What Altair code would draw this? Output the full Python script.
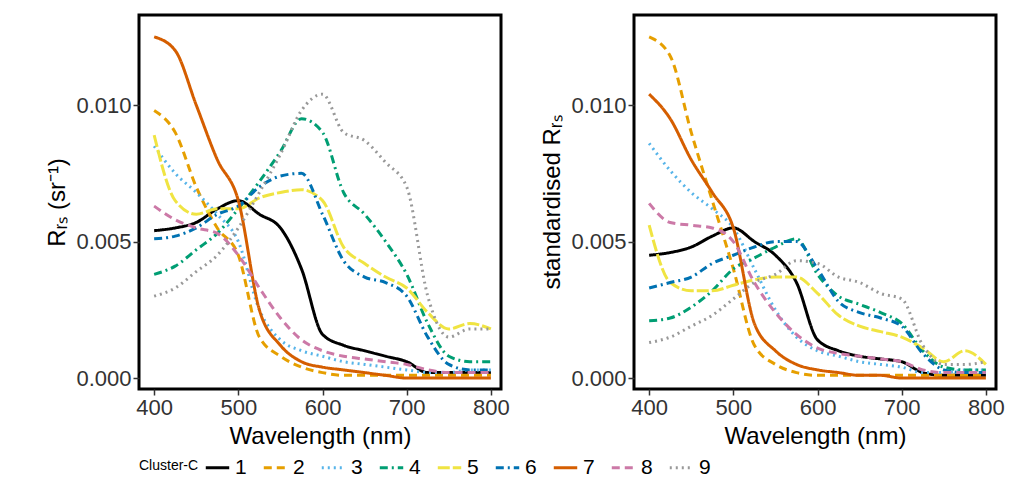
import altair as alt
import pandas as pd

wl = [400, 425, 450, 475, 500, 525, 550, 575, 600, 625, 650, 675, 700, 725, 750, 775, 800]
clusters = ["1", "2", "3", "4", "5", "6", "7", "8", "9"]

rrs = {
    "1": [.0054, .0055, .0057, .0062, .0065, .0060, .0055, .0040, .0016, .0012, .0010, .0008, .0006, .0002, .0002, .0002, .0002],
    "2": [.0098, .0090, .0070, .0055, .0045, .0015, .0008, .0004, .0002, .0001, .0001, .0001, .0001, .0001, .0001, .0001, .0001],
    "3": [.0085, .0075, .0068, .0060, .0050, .0025, .0014, .0010, .0008, .0006, .0005, .0004, .0003, .0002, .0002, .0003, .0003],
    "4": [.0038, .0041, .0047, .0053, .0062, .0072, .0083, .0095, .0090, .0068, .0060, .0050, .0038, .0020, .0008, .0006, .0006],
    "5": [.0089, .0065, .0060, .0062, .0062, .0066, .0068, .0069, .0065, .0048, .0042, .0037, .0033, .0024, .0018, .0020, .0018],
    "6": [.0051, .0052, .0055, .0060, .0063, .0070, .0074, .0075, .0060, .0043, .0037, .0035, .0030, .0015, .0005, .0003, .0003],
    "7": [.0125, .0120, .0100, .0080, .0065, .0025, .0012, .0006, .0004, .0003, .0002, .0001, .0000, .0000, .0000, .0000, .0000],
    "8": [.0063, .0058, .0055, .0053, .0045, .0033, .0022, .0014, .0010, .0008, .0007, .0006, .0005, .0003, .0002, .0002, .0002],
    "9": [.0030, .0033, .0039, .0045, .0055, .0068, .0082, .0098, .0104, .0090, .0087, .0079, .0070, .0030, .0015, .0018, .0018],
}

std = {
    "1": [.0045, .0046, .0048, .0052, .0055, .0050, .0045, .0035, .0014, .0010, .0008, .0007, .0006, .0002, .0001, .0001, .0001],
    "2": [.0125, .0118, .0090, .0065, .0040, .0012, .0005, .0002, .0001, .0001, .0001, .0001, .0001, .0001, .0001, .0001, .0001],
    "3": [.0086, .0076, .0068, .0062, .0055, .0040, .0025, .0015, .0010, .0008, .0006, .0005, .0004, .0002, .0002, .0003, .0003],
    "4": [.0021, .0022, .0026, .0032, .0040, .0044, .0048, .0051, .0038, .0030, .0027, .0024, .0020, .0010, .0004, .0003, .0003],
    "5": [.0056, .0035, .0032, .0032, .0034, .0036, .0037, .0037, .0031, .0023, .0019, .0017, .0015, .0011, .0006, .0010, .0005],
    "6": [.0033, .0035, .0037, .0042, .0045, .0048, .0050, .0050, .0040, .0028, .0024, .0022, .0019, .0009, .0003, .0002, .0002],
    "7": [.0104, .0095, .0080, .0068, .0055, .0020, .0010, .0005, .0003, .0002, .0001, .0001, .0000, .0000, .0000, .0000, .0000],
    "8": [.0064, .0057, .0056, .0055, .0050, .0035, .0024, .0016, .0011, .0009, .0008, .0007, .0006, .0003, .0002, .0002, .0002],
    "9": [.0013, .0015, .0019, .0023, .0029, .0035, .0038, .0043, .0042, .0037, .0035, .0031, .0029, .0012, .0005, .0005, .0006],
}

colors = ["#000000", "#E69F00", "#56B4E9", "#009E73", "#F0E442", "#0072B2", "#D55E00", "#CC79A7", "#999999"]
dashes = [[1, 0], [8, 5], [2, 4], [8, 4, 2, 4], [12, 3], [8, 4, 2, 4], [1, 0], [8, 5], [2, 4]]


def long_df(d):
    rows = []
    for c in clusters:
        for w, v in zip(wl, d[c]):
            rows.append({"wl": w, "val": v, "cluster": c})
    return pd.DataFrame(rows)


def panel(d, ytitle):
    return alt.Chart(long_df(d)).mark_line(strokeWidth=3, interpolate="monotone").encode(
        x=alt.X("wl:Q", title="Wavelength (nm)",
                scale=alt.Scale(domain=[382, 812], nice=False),
                axis=alt.Axis(values=[400, 500, 600, 700, 800])),
        y=alt.Y("val:Q", title=ytitle,
                scale=alt.Scale(domain=[-0.0004, 0.0133], nice=False),
                axis=alt.Axis(values=[0, 0.005, 0.01], format=".3f")),
        color=alt.Color("cluster:N", title="Cluster-C",
                        scale=alt.Scale(domain=clusters, range=colors)),
        strokeDash=alt.StrokeDash("cluster:N", title="Cluster-C",
                                  scale=alt.Scale(domain=clusters, range=dashes)),
    ).properties(width=362, height=374)


chart = alt.hconcat(
    panel(rrs, "Rᵣₛ (sr⁻¹)"),
    panel(std, "standardised Rᵣₛ"),
    spacing=28,
).properties(padding={"left": 36, "top": 5, "right": 5, "bottom": 5}).configure_view(
    stroke="black", strokeWidth=3
).configure_axis(
    labelFont="Liberation Sans", titleFont="Liberation Sans",
    labelFontSize=22, titleFontSize=24, titleFontWeight="normal",
    labelColor="#333", titleColor="black", grid=False,
    tickColor="#333", tickWidth=1.5, tickSize=6, domain=False, titlePadding=6,
).configure_legend(
    orient="bottom", direction="horizontal", columns=9,
    titleOrient="left", titleFontSize=14, titleFontWeight="normal",
    titleFont="Liberation Sans", labelFont="Liberation Sans",
    labelFontSize=21, symbolType="stroke", symbolSize=550,
    symbolStrokeWidth=3, columnPadding=10, offset=4,
)

chart.save("out.html", embed_options={"renderer": "svg", "actions": False})
